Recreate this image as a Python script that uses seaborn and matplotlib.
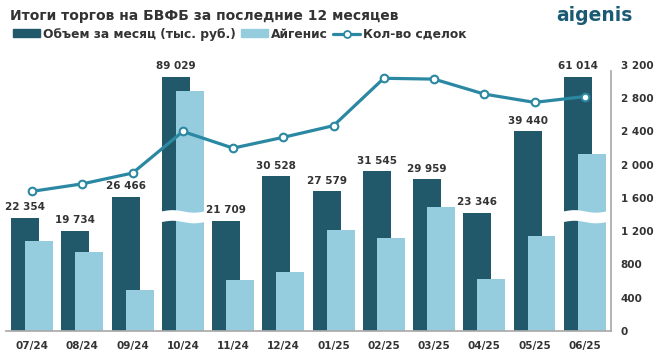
import matplotlib
matplotlib.use("Agg")
import matplotlib.pyplot as plt
from matplotlib.lines import Line2D
from matplotlib.patches import Patch
import numpy as np
import seaborn as sns

# Data
months = ["07/24", "08/24", "09/24", "10/24", "11/24", "12/24",
          "01/25", "02/25", "03/25", "04/25", "05/25", "06/25"]
volume = [22354, 19734, 26466, 89029, 21709, 30528,
          27579, 31545, 29959, 23346, 39440, 61014]
aigenis = [17800, 15600, 8100, 47300, 10100, 11700,
           20000, 18400, 24500, 10300, 18800, 35000]
deals = [1680, 1770, 1900, 2400, 2200, 2330,
         2470, 3040, 3030, 2850, 2750, 2820]
deal_ticks = [0, 400, 800, 1200, 1600, 2000, 2400, 2800, 3200]

DARK = "#21596a"
LIGHT = "#95cdde"
LINE = "#2b88a3"
TEXT = "#333333"
CAP = 50200          # bars taller than this are drawn broken
BAR_MAX = 52500      # hidden left axis limit

sns.set_theme(style="white")
plt.rcParams["font.family"] = ["DejaVu Sans"]

fig = plt.figure(figsize=(6.64, 3.59), dpi=100)
ax = fig.add_axes([0.009, 0.078, 0.911, 0.741])
ax2 = ax.twinx()

x = np.arange(len(months))
w = 0.557
off = 0.139
vol_disp = [min(v, CAP) for v in volume]
aig_disp = [min(v, CAP) for v in aigenis]
ax.bar(x - off, vol_disp, width=w, color=DARK, linewidth=0, zorder=2)
ax.bar(x + off, aig_disp, width=w, color=LIGHT, linewidth=0, zorder=2)

# value labels over the dark bars
for xi, v, d in zip(x, volume, vol_disp):
    ax.annotate(f"{v:,}".replace(",", " "), (xi - off, d), xytext=(0, 4),
                textcoords="offset points", ha="center", va="bottom",
                fontsize=7.5, fontweight="bold", color=TEXT)

# broken-axis marks
for xi, v in zip(x, volume):
    if v > CAP:
        xs = np.linspace(xi - off - w / 2 - 0.01, xi + off + w / 2 + 0.01, 60)
        wave = 250 * np.sin(2 * np.pi * (xs - xs[0]) / (xs[-1] - xs[0]))
        ax.fill_between(xs, 21600 + wave, 23700 + wave, color="white",
                        zorder=3, linewidth=0)

ax.set_ylim(0, BAR_MAX)
ax.set_xlim(-0.52, len(months) - 0.48)
ax.set_yticks([])
ax.set_xticks(x)
ax.set_xticklabels(months, fontsize=7.5, fontweight="bold", color=TEXT)
ax.tick_params(axis="x", length=0, pad=7)

sns.lineplot(x=x, y=deals, ax=ax2, color=LINE, linewidth=2.3, marker="o",
             markersize=5.5, markerfacecolor="white", markeredgecolor=LINE,
             markeredgewidth=1.5, zorder=5)
ax2.set_ylim(0, 3200)
ax2.set_yticks(deal_ticks)
ax2.set_yticklabels([f"{t:,}".replace(",", " ") for t in deal_ticks],
                    fontsize=7.5, fontweight="bold", color=TEXT)
ax2.tick_params(axis="y", length=0, pad=7)
ax2.set_ylabel("")

for a in (ax, ax2):
    for s in ("top", "left"):
        a.spines[s].set_visible(False)
    a.spines["bottom"].set_color("#aaaaaa")
    a.spines["right"].set_color("#aaaaaa")
    a.grid(False)
ax.spines["right"].set_visible(False)
ax2.spines["bottom"].set_visible(False)
ax2.spines["right"].set_bounds(0, 3130)

fig.text(0.015, 0.955, "Итоги торгов на БВФБ за последние 12 месяцев",
         fontsize=10, fontweight="bold", color=TEXT, va="center")
fig.text(0.952, 0.942, "aigenis", fontsize=13.5, fontweight="bold",
         color="#1b5a73", ha="right", va="baseline")

handles = [Patch(color=DARK, label="Объем за месяц (тыс. руб.)"),
           Patch(color=LIGHT, label="Айгенис"),
           Line2D([0], [0], color=LINE, lw=2.3, marker="o", markersize=5,
                  markerfacecolor="white", markeredgecolor=LINE,
                  markeredgewidth=1.3, label="Кол-во сделок")]
leg = fig.legend(handles=handles, loc="center left", bbox_to_anchor=(0.019, 0.905),
                 ncol=3, frameon=False, handlelength=2.2, handleheight=0.6,
                 handletextpad=0.25, columnspacing=0.45, borderaxespad=0,
                 borderpad=0, prop={"size": 8.8, "weight": "bold"})
for t in leg.get_texts():
    t.set_color(TEXT)

fig.savefig("out.png", dpi=100)
